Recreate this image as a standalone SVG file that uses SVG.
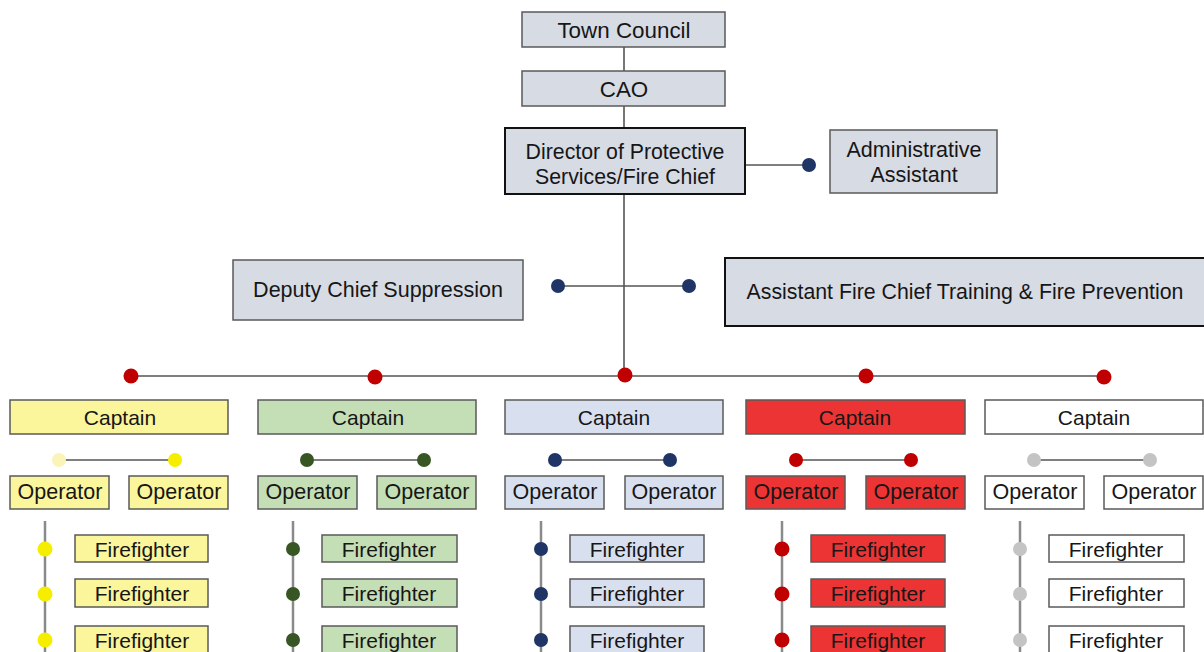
<svg xmlns="http://www.w3.org/2000/svg" width="1204" height="652" viewBox="0 0 1204 652">
  <style>
    text { font-family: "Liberation Sans", Arial, sans-serif; font-size: 21.5px; fill: #161616; text-anchor: middle; dominant-baseline: central; }
    .top { font-size: 22.4px; }
    .mid { font-size: 21.3px; }
    .ff { font-size: 21px; }
    .box { stroke: #5a5a5a; stroke-width: 1.5; }
    .grey { fill: #d6dbe4; }
    .bold { stroke: #111; stroke-width: 2; }
    .yel { fill: #fbf59c; }
    .grn { fill: #c4deb5; }
    .blu { fill: #d8e0f0; }
    .red { fill: #ec3434; }
    .wht { fill: #ffffff; }
    .ln { stroke: #555; stroke-width: 1.6; fill: none; }
    .lnlight { stroke: #8a8a8a; stroke-width: 2.5; fill: none; }
    .dnavy { fill: #1e3566; }
    .dred { fill: #c00000; }
    .dgrn { fill: #375623; }
    .dyel { fill: #f5ee00; }
    .dyel2 { fill: #fbf3b8; }
    .dgry { fill: #c4c4c4; }
  </style>

  <!-- connectors -->
  <g id="connectors">
    <line class="ln" x1="624" y1="47" x2="624" y2="71"/>
    <line class="ln" x1="624" y1="106" x2="624" y2="128"/>
    <line class="ln" x1="624" y1="194" x2="624" y2="376"/>
    <line class="ln" x1="745" y1="165" x2="809" y2="165"/>
    <circle class="dnavy" cx="809" cy="165" r="7"/>
    <line class="ln" x1="558" y1="286" x2="689" y2="286"/>
    <circle class="dnavy" cx="558" cy="286" r="7"/>
    <circle class="dnavy" cx="689" cy="286" r="7"/>
    <line class="ln" x1="131" y1="376" x2="1104" y2="376"/>
    <circle class="dred" cx="131" cy="376" r="7.5"/>
    <circle class="dred" cx="375" cy="377" r="7.5"/>
    <circle class="dred" cx="625" cy="375" r="7.5"/>
    <circle class="dred" cx="866" cy="376" r="7.5"/>
    <circle class="dred" cx="1104" cy="377" r="7.5"/>

    <!-- operator pairs -->
    <line class="ln" x1="59" y1="460" x2="175" y2="460"/>
    <circle class="dyel2" cx="59" cy="460" r="7"/>
    <circle class="dyel" cx="175" cy="460" r="7"/>
    <line class="ln" x1="307" y1="460" x2="424" y2="460"/>
    <circle class="dgrn" cx="307" cy="460" r="7"/>
    <circle class="dgrn" cx="424" cy="460" r="7"/>
    <line class="ln" x1="555" y1="460" x2="670" y2="460"/>
    <circle class="dnavy" cx="555" cy="460" r="7"/>
    <circle class="dnavy" cx="670" cy="460" r="7"/>
    <line class="ln" x1="796" y1="460" x2="911" y2="460"/>
    <circle class="dred" cx="796" cy="460" r="7"/>
    <circle class="dred" cx="911" cy="460" r="7"/>
    <line class="ln" x1="1034" y1="460" x2="1150" y2="460"/>
    <circle class="dgry" cx="1034" cy="460" r="7"/>
    <circle class="dgry" cx="1150" cy="460" r="7"/>

    <!-- firefighter spines -->
    <line class="lnlight" x1="45" y1="521" x2="45" y2="652"/>
    <circle class="dyel" cx="45" cy="549" r="7.5"/>
    <circle class="dyel" cx="45" cy="594" r="7.5"/>
    <circle class="dyel" cx="45" cy="640" r="7.5"/>
    <line class="lnlight" x1="293" y1="521" x2="293" y2="652"/>
    <circle class="dgrn" cx="293" cy="549" r="7"/>
    <circle class="dgrn" cx="293" cy="594" r="7"/>
    <circle class="dgrn" cx="293" cy="640" r="7"/>
    <line class="lnlight" x1="541" y1="521" x2="541" y2="652"/>
    <circle class="dnavy" cx="541" cy="549" r="7"/>
    <circle class="dnavy" cx="541" cy="594" r="7"/>
    <circle class="dnavy" cx="541" cy="640" r="7"/>
    <line class="lnlight" x1="782" y1="521" x2="782" y2="652"/>
    <circle class="dred" cx="782" cy="549" r="7.5"/>
    <circle class="dred" cx="782" cy="594" r="7.5"/>
    <circle class="dred" cx="782" cy="640" r="7.5"/>
    <line class="lnlight" x1="1020" y1="521" x2="1020" y2="652"/>
    <circle class="dgry" cx="1020" cy="549" r="7"/>
    <circle class="dgry" cx="1020" cy="594" r="7"/>
    <circle class="dgry" cx="1020" cy="640" r="7"/>
  </g>

  <!-- leadership -->
  <g id="town-council"><rect class="box grey" x="522" y="12" width="203" height="35"/><text class="top" x="624" y="30">Town Council</text></g>
  <g id="cao"><rect class="box grey" x="522" y="71" width="203" height="35"/><text class="top" x="624" y="89">CAO</text></g>
  <g id="fire-chief"><rect class="grey bold" x="505" y="128" width="240" height="66"/><text class="mid" x="625" y="152">Director of Protective</text><text class="mid" x="625" y="177">Services/Fire Chief</text></g>
  <g id="admin-assistant"><rect class="box grey" x="830" y="130" width="167" height="63"/><text x="914" y="150">Administrative</text><text x="914" y="175">Assistant</text></g>
  <g id="deputy-chief"><rect class="box grey" x="233" y="260" width="290" height="60"/><text x="378" y="290">Deputy Chief Suppression</text></g>
  <g id="assistant-chief"><rect class="grey bold" x="725" y="258" width="482" height="68"/><text class="mid" x="965" y="292">Assistant Fire Chief Training &amp; Fire Prevention</text></g>

  <!-- captains -->
  <g id="captain-1"><rect class="box yel" x="10" y="400" width="218" height="34"/><text class="ff" x="120" y="417">Captain</text></g>
  <g id="captain-2"><rect class="box grn" x="258" y="400" width="218" height="34"/><text class="ff" x="368" y="417">Captain</text></g>
  <g id="captain-3"><rect class="box blu" x="505" y="400" width="218" height="34"/><text class="ff" x="614" y="417">Captain</text></g>
  <g id="captain-4"><rect class="box red" x="746" y="400" width="219" height="34"/><text class="ff" x="855" y="417">Captain</text></g>
  <g id="captain-5"><rect class="box wht" x="985" y="400" width="218" height="34"/><text class="ff" x="1094" y="417">Captain</text></g>

  <!-- operators -->
  <g id="operator-1a"><rect class="box yel" x="10" y="476" width="99" height="33"/><text x="60" y="492">Operator</text></g>
  <g id="operator-1b"><rect class="box yel" x="129" y="476" width="99" height="33"/><text x="179" y="492">Operator</text></g>
  <g id="operator-2a"><rect class="box grn" x="258" y="476" width="99" height="33"/><text x="308" y="492">Operator</text></g>
  <g id="operator-2b"><rect class="box grn" x="377" y="476" width="99" height="33"/><text x="427" y="492">Operator</text></g>
  <g id="operator-3a"><rect class="box blu" x="505" y="476" width="99" height="33"/><text x="555" y="492">Operator</text></g>
  <g id="operator-3b"><rect class="box blu" x="625" y="476" width="98" height="33"/><text x="674" y="492">Operator</text></g>
  <g id="operator-4a"><rect class="box red" x="746" y="476" width="99" height="33"/><text x="796" y="492">Operator</text></g>
  <g id="operator-4b"><rect class="box red" x="866" y="476" width="99" height="33"/><text x="916" y="492">Operator</text></g>
  <g id="operator-5a"><rect class="box wht" x="985" y="476" width="99" height="33"/><text x="1035" y="492">Operator</text></g>
  <g id="operator-5b"><rect class="box wht" x="1104" y="476" width="99" height="33"/><text x="1154" y="492">Operator</text></g>

  <!-- firefighters -->
  <g id="firefighter-1a"><rect class="box yel" x="75" y="535" width="133" height="27"/><text class="ff" x="142" y="549">Firefighter</text></g>
  <g id="firefighter-1b"><rect class="box yel" x="75" y="579" width="133" height="28"/><text class="ff" x="142" y="593">Firefighter</text></g>
  <g id="firefighter-1c"><rect class="box yel" x="75" y="626" width="133" height="30"/><text class="ff" x="142" y="640">Firefighter</text></g>
  <g id="firefighter-2a"><rect class="box grn" x="322" y="535" width="135" height="27"/><text class="ff" x="389" y="549">Firefighter</text></g>
  <g id="firefighter-2b"><rect class="box grn" x="322" y="579" width="135" height="28"/><text class="ff" x="389" y="593">Firefighter</text></g>
  <g id="firefighter-2c"><rect class="box grn" x="322" y="626" width="135" height="30"/><text class="ff" x="389" y="640">Firefighter</text></g>
  <g id="firefighter-3a"><rect class="box blu" x="570" y="535" width="134" height="27"/><text class="ff" x="637" y="549">Firefighter</text></g>
  <g id="firefighter-3b"><rect class="box blu" x="570" y="579" width="134" height="28"/><text class="ff" x="637" y="593">Firefighter</text></g>
  <g id="firefighter-3c"><rect class="box blu" x="570" y="626" width="134" height="30"/><text class="ff" x="637" y="640">Firefighter</text></g>
  <g id="firefighter-4a"><rect class="box red" x="811" y="535" width="134" height="27"/><text class="ff" x="878" y="549">Firefighter</text></g>
  <g id="firefighter-4b"><rect class="box red" x="811" y="579" width="134" height="28"/><text class="ff" x="878" y="593">Firefighter</text></g>
  <g id="firefighter-4c"><rect class="box red" x="811" y="626" width="134" height="30"/><text class="ff" x="878" y="640">Firefighter</text></g>
  <g id="firefighter-5a"><rect class="box wht" x="1049" y="535" width="135" height="27"/><text class="ff" x="1116" y="549">Firefighter</text></g>
  <g id="firefighter-5b"><rect class="box wht" x="1049" y="579" width="135" height="28"/><text class="ff" x="1116" y="593">Firefighter</text></g>
  <g id="firefighter-5c"><rect class="box wht" x="1049" y="626" width="135" height="30"/><text class="ff" x="1116" y="640">Firefighter</text></g>
</svg>
